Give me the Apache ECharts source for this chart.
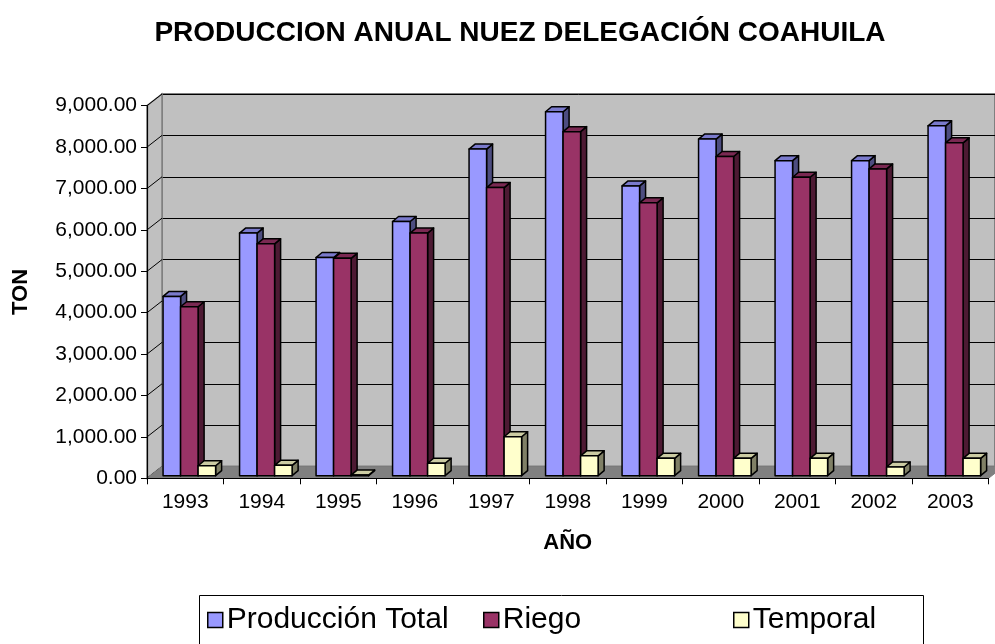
<!DOCTYPE html>
<html>
<head>
<meta charset="utf-8">
<script src="https://cdn.jsdelivr.net/npm/echarts@6/dist/echarts.min.js"></script>
<style>html,body{margin:0;padding:0;background:#fff;}#c{width:995px;height:644px;}</style>
</head>
<body>
<div id="c"></div>
<script>
const years = ['1993','1994','1995','1996','1997','1998','1999','2000','2001','2002','2003'];
const produccionTotal = [4330, 5860, 5270, 6140, 7890, 8790, 7000, 8130, 7610, 7610, 8450];
const riego = [4080, 5600, 5250, 5860, 6960, 8310, 6590, 7710, 7210, 7410, 8040];
const temporal = [240, 250, 15, 300, 940, 480, 420, 420, 420, 210, 420];
const yTicks = [0, 1000, 2000, 3000, 4000, 5000, 6000, 7000, 8000, 9000];

const FONT = 'Liberation Sans, Arial, sans-serif';
const DEPTH_X = 15, DEPTH_Y = -11.7;
const BAR_DX = 6, BAR_DY = -5, BAR_LIFT = -2.6;

const palettes = [
  {front:'#9999FF', top:'#7a7acc', side:'#4d4d80'},
  {front:'#993366', top:'#7a2952', side:'#4d1a33'},
  {front:'#FFFFCC', top:'#ccccA3', side:'#808066'}
];

function barRenderer(k){
  return function(params, api){
    const cat = api.value(0), v = api.value(1);
    const base = api.coord([cat, 0]);
    const top = api.coord([cat, v]);
    const bw = api.size([1, 0])[0];
    const w = bw * 0.229;
    const x0 = base[0] - bw * 0.29 + k * w;
    const yb = base[1] + BAR_LIFT, yt = top[1] + BAR_LIFT;
    const p = palettes[k];
    const st = {stroke:'#000', lineWidth:1.5, lineJoin:'round'};
    return {type:'group', children:[
      {type:'polygon', shape:{points:[[x0+w,yt],[x0+w+BAR_DX,yt+BAR_DY],[x0+w+BAR_DX,yb+BAR_DY],[x0+w,yb]]}, style:Object.assign({fill:p.side}, st)},
      {type:'polygon', shape:{points:[[x0,yt],[x0+BAR_DX,yt+BAR_DY],[x0+w+BAR_DX,yt+BAR_DY],[x0+w,yt]]}, style:Object.assign({fill:p.top}, st)},
      {type:'rect', shape:{x:x0, y:yt, width:w, height:yb-yt}, style:Object.assign({fill:p.front}, st)}
    ]};
  };
}

function wallRenderer(params, api){
  const r = params.coordSys;
  const xl = r.x, xr = r.x + r.width, yt = r.y, yb = r.y + r.height;
  const children = [];
  children.push({type:'polygon', shape:{points:[[xl,yb],[xl,yt],[xl+DEPTH_X,yt+DEPTH_Y],[xl+DEPTH_X,yb+DEPTH_Y]]}, style:{fill:'#c0c0c0', stroke:'#808080', lineWidth:1.5}});
  yTicks.forEach(function(t){
    const y = api.coord([0, t])[1];
    children.push({type:'line', shape:{x1:xl, y1:y, x2:xl+DEPTH_X, y2:y+DEPTH_Y}, style:{stroke:'#000', lineWidth:1}});
  });
  children.push({type:'polygon', shape:{points:[[xl,yb],[xr,yb],[xr+DEPTH_X,yb+DEPTH_Y],[xl+DEPTH_X,yb+DEPTH_Y]]}, style:{fill:'#808080', stroke:'#808080', lineWidth:1}});
  return {type:'group', children:children};
}

const chart = echarts.init(document.getElementById('c'), null, {renderer:'canvas'});
const seriesNames = ['Producción Total', 'Riego', 'Temporal'];
const seriesData = [produccionTotal, riego, temporal];
const legendLefts = [207, 483, 733];

const option = {
  animation:false,
  backgroundColor:'#fff',
  textStyle:{fontFamily:FONT},
  title:{text:'PRODUCCION ANUAL NUEZ DELEGACIÓN COAHUILA', left:515, textAlign:'center', top:14,
    textStyle:{fontFamily:FONT, fontSize:28, fontWeight:'bold', color:'#000'}},
  grid:[
    {left:147, right:6.5, top:105.7, bottom:165.7, containLabel:false},
    {left:147+DEPTH_X, width:841.5, top:105.7+DEPTH_Y, height:372.6, show:true, backgroundColor:'#c0c0c0', borderColor:'#808080', borderWidth:2, z:-1}
  ],
  xAxis:[
    {type:'category', data:years, gridIndex:0, z:5,
      axisLine:{lineStyle:{color:'#000', width:1.2}},
      axisTick:{show:true, length:6, lineStyle:{color:'#000'}},
      axisLabel:{fontSize:21, color:'#000', margin:13, fontFamily:FONT},
      name:'AÑO', nameLocation:'middle', nameGap:54,
      nameTextStyle:{fontSize:22, fontWeight:'bold', color:'#000', fontFamily:FONT}},
    {type:'category', data:years, gridIndex:1, show:false}
  ],
  yAxis:[
    {type:'value', gridIndex:0, min:0, max:9000, interval:1000, z:5,
      axisLine:{show:true, lineStyle:{color:'#000', width:1.2}},
      axisTick:{show:true, length:6, lineStyle:{color:'#000'}},
      splitLine:{show:false},
      axisLabel:{fontSize:21, color:'#000', margin:10, fontFamily:FONT,
        formatter:function(v){return v.toLocaleString('en-US',{minimumFractionDigits:2, maximumFractionDigits:2});}},
      name:'TON', nameLocation:'middle', nameGap:115, nameRotate:90,
      nameTextStyle:{fontSize:22, fontWeight:'bold', color:'#000', fontFamily:FONT}},
    {type:'value', gridIndex:1, min:0, max:9000, interval:1000,
      axisLine:{show:false}, axisTick:{show:false}, axisLabel:{show:false},
      splitLine:{show:true, lineStyle:{color:'#000', width:1}}}
  ],
  legend:[0,1,2].map(function(k){
    return {data:[seriesNames[k]], left:legendLefts[k], top:605, padding:0, itemWidth:15, itemHeight:15, itemGap:0,
      icon:'rect', selectedMode:false,
      itemStyle:{borderColor:'#000', borderWidth:1.5},
      textStyle:{fontSize:30, color:'#000', fontFamily:FONT, padding:[0,0,0,-1]}};
  }),
  graphic:[{type:'rect', left:197, top:593, shape:{width:724, height:70}, style:{fill:'none', stroke:'#000', lineWidth:1}, silent:true}],
  series:[
    {type:'custom', name:'walls', xAxisIndex:0, yAxisIndex:0, data:[[0,0]], renderItem:wallRenderer, z:1, silent:true, legendHoverLink:false}
  ].concat([0,1,2].map(function(k){
    return {type:'custom', name:seriesNames[k], xAxisIndex:0, yAxisIndex:0, z:3,
      itemStyle:{color:palettes[k].front},
      data:seriesData[k].map(function(v,i){return [i, v];}),
      renderItem:barRenderer(k)};
  }))
};
chart.setOption(option);
</script>
</body>
</html>
